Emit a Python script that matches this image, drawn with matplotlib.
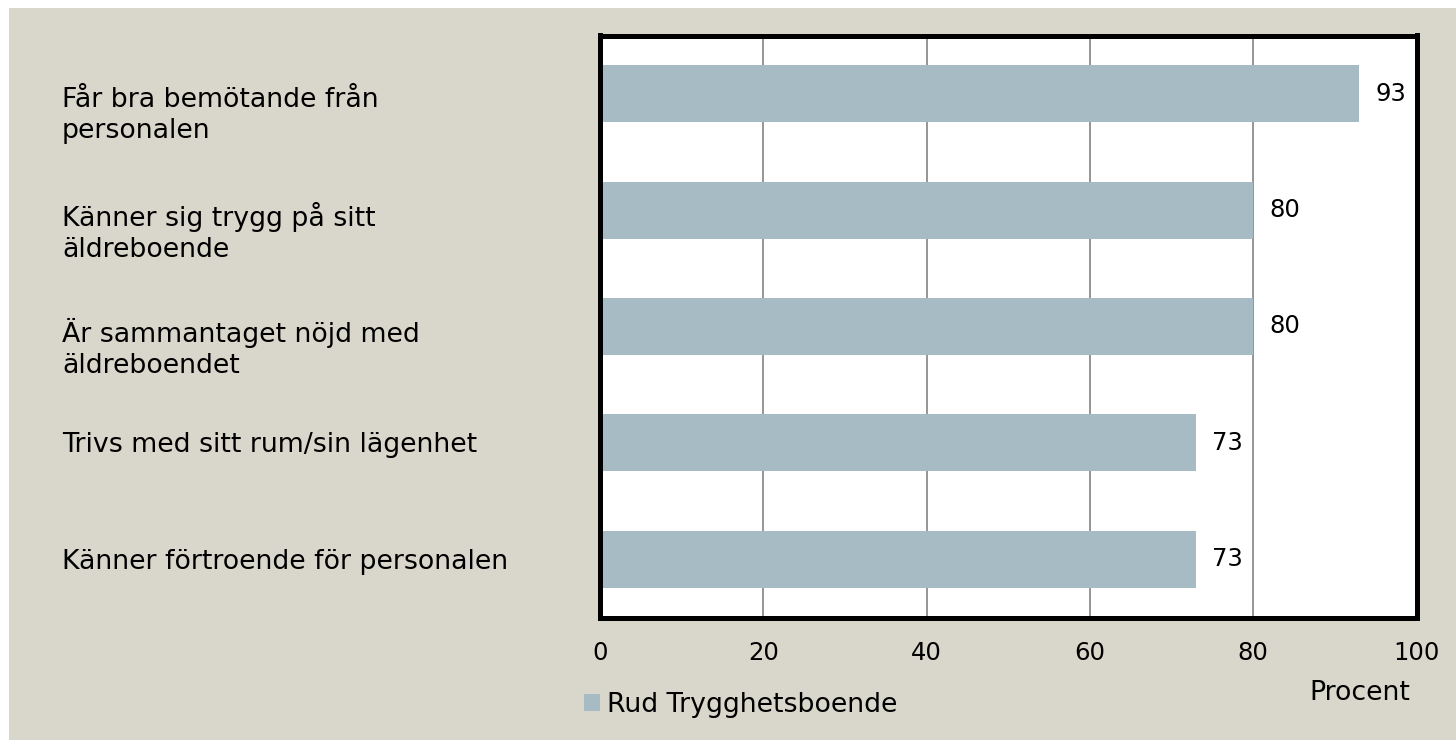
import matplotlib
matplotlib.use("Agg")
import matplotlib.pyplot as plt
import matplotlib.patches as patches
import matplotlib.transforms as mtrans

# data
categories = [
    "Får bra bemötande från\npersonalen",
    "Känner sig trygg på sitt\näldreboende",
    "Är sammantaget nöjd med\näldreboendet",
    "Trivs med sitt rum/sin lägenhet",
    "Känner förtroende för personalen",
]
values = [93, 80, 80, 73, 73]
series_name = "Rud Trygghetsboende"
xticks = [0, 20, 40, 60, 80, 100]

bg = "#D9D7CB"
bar_col = "#A7BBC5"
plt.rcParams['font.family'] = ['DejaVu Sans']
txt_size = 19.3
num_size = 17.5

W, H = 1456, 740
fig = plt.figure(figsize=(W / 100, H / 100), dpi=100, facecolor="white")
fig.patches.append(patches.Rectangle((9 / W, 0), 1, 1 - 8 / H, transform=fig.transFigure,
                                     facecolor=bg, edgecolor="none", zorder=-10))

ax = fig.add_axes([600 / W, 1 - 617.5 / H, 816.5 / W, 582 / H])
ax.set_facecolor("white")

y = list(range(len(categories)))
ax.barh(y, values, height=0.49, color=bar_col, zorder=2)
ax.set_xlim(0, 100)
ax.set_ylim(len(categories) - 0.5, -0.5)
ax.set_xticks(xticks)
ax.set_yticks([])
ax.grid(axis="x", color="#8C8C8C", linewidth=1.3, zorder=1)
ax.tick_params(axis="x", length=0, pad=17, labelsize=num_size)
for s in ax.spines.values():
    s.set_linewidth(3.6)
    s.set_color("black")

# value labels
for yi, v in zip(y, values):
    ax.text(v + 2.0, yi, str(v), va="center", ha="left", fontsize=num_size, color="black")

# category labels (two-line ones sit lower, as in the original)
tr = mtrans.blended_transform_factory(fig.transFigure, ax.transData)
for yi, c in zip(y, categories):
    off = 0.19 if "\n" in c else 0.02
    fig.text(62 / W, yi + off, c, transform=tr, ha="left", va="center",
             fontsize=txt_size, linespacing=1.25)

fig.text(1360 / W, 1 - 693 / H, "Procent", ha="center", va="center", fontsize=txt_size)

ax.legend([series_name], loc="center left", bbox_to_anchor=(584 / W, 1 - 705 / H),
          bbox_transform=fig.transFigure, frameon=False, fontsize=txt_size,
          handlelength=0.58, handleheight=0.58, handletextpad=0.26, borderpad=0,
          borderaxespad=0)

fig.savefig("out.png", dpi=100, facecolor="white")
